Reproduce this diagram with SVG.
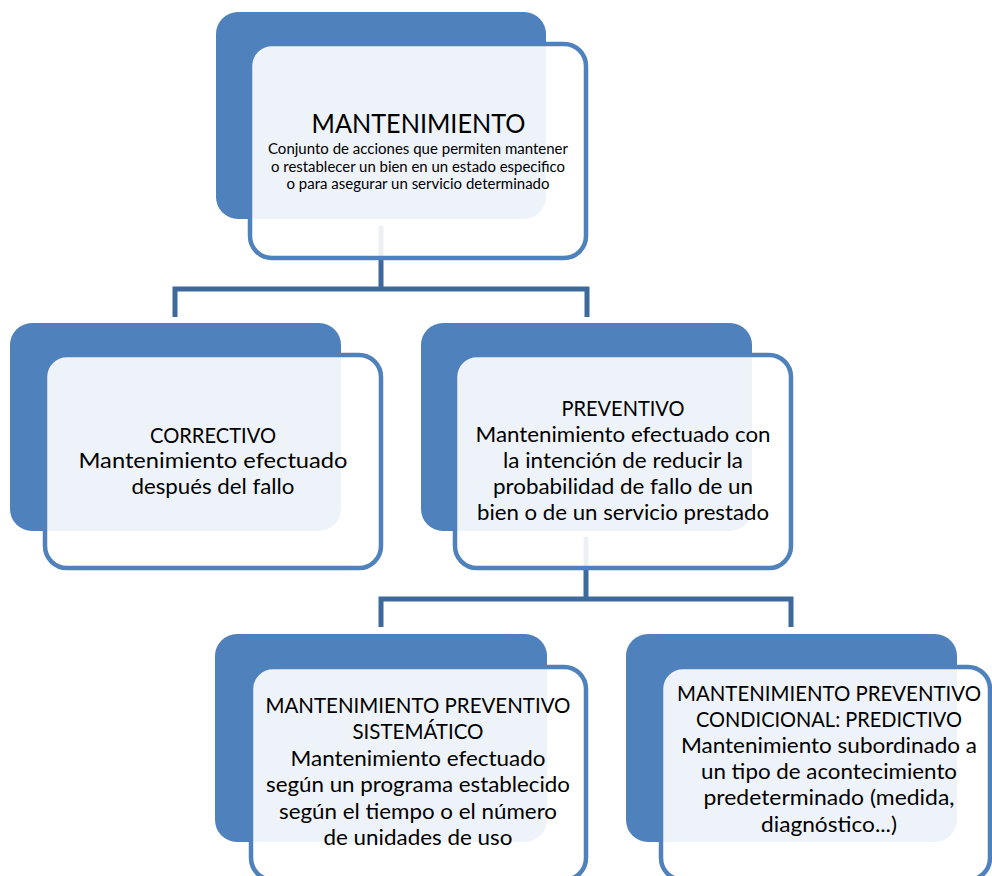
<svg xmlns="http://www.w3.org/2000/svg" width="992" height="876" viewBox="0 0 992 876">
<style>
.back{fill:#4F81BD;}
.front{fill:#FFFFFF;fill-opacity:0.9;stroke:#4F81BD;stroke-width:4.5;}
.conn{fill:none;stroke:#3E6A9B;stroke-width:5;stroke-linejoin:miter;stroke-linecap:butt;}
text{font-family:Lato,"Liberation Sans",sans-serif;fill:#000;text-anchor:middle;}
.t{font-size:21.5px;}
.title{font-size:26.5px;}
.sub{font-size:14.5px;}
</style>
<rect width="992" height="876" fill="#FFFFFF"/>
<g id="connectors">
<path class="conn" d="M175 317 V289 H587 V317 M381 226 V289"/>
<path class="conn" d="M381 627 V599 H791 V627 M586 537 V599"/>
</g>
<g id="mantenimiento">
<rect class="back" x="216" y="12" width="330" height="207" rx="22"/>
<rect class="front" x="250" y="44" width="336" height="214" rx="22"/>
<text class="title" x="418.5" y="133" textLength="214" lengthAdjust="spacingAndGlyphs">MANTENIMIENTO</text>
<text class="sub" x="418" y="154" textLength="300" lengthAdjust="spacingAndGlyphs">Conjunto de acciones que permiten mantener</text>
<text class="sub" x="418" y="171.5" textLength="294" lengthAdjust="spacingAndGlyphs">o restablecer un bien en un estado especifico</text>
<text class="sub" x="418" y="188.5" textLength="263" lengthAdjust="spacingAndGlyphs">o para asegurar un servicio determinado</text>
</g>
<g id="correctivo">
<rect class="back" x="10" y="323" width="331" height="208" rx="22"/>
<rect class="front" x="45" y="355" width="336" height="213" rx="22"/>
<text class="t" x="213" y="442.5" textLength="126" lengthAdjust="spacingAndGlyphs">CORRECTIVO</text>
<text class="t" x="213" y="468" textLength="269" lengthAdjust="spacingAndGlyphs">Mantenimiento efectuado</text>
<text class="t" x="213" y="493.5" textLength="163" lengthAdjust="spacingAndGlyphs">después del fallo</text>
</g>
<g id="preventivo">
<rect class="back" x="421" y="323" width="331" height="208" rx="22"/>
<rect class="front" x="455" y="355" width="336" height="213" rx="22"/>
<text class="t" x="623" y="416" textLength="123" lengthAdjust="spacingAndGlyphs">PREVENTIVO</text>
<text class="t" x="623" y="442" textLength="295" lengthAdjust="spacingAndGlyphs">Mantenimiento efectuado con</text>
<text class="t" x="623" y="468" textLength="240" lengthAdjust="spacingAndGlyphs">la intención de reducir la</text>
<text class="t" x="623" y="494" textLength="260" lengthAdjust="spacingAndGlyphs">probabilidad de fallo de un</text>
<text class="t" x="623" y="520" textLength="292" lengthAdjust="spacingAndGlyphs">bien o de un servicio prestado</text>
</g>
<g id="sistematico">
<rect class="back" x="215" y="634" width="332" height="208" rx="22"/>
<rect class="front" x="251" y="667" width="335" height="213" rx="22"/>
<text class="t" x="418" y="713" textLength="305" lengthAdjust="spacingAndGlyphs">MANTENIMIENTO PREVENTIVO</text>
<text class="t" x="418" y="739" textLength="131" lengthAdjust="spacingAndGlyphs">SISTEMÁTICO</text>
<text class="t" x="418" y="766" textLength="255" lengthAdjust="spacingAndGlyphs">Mantenimiento efectuado</text>
<text class="t" x="418" y="792" textLength="304" lengthAdjust="spacingAndGlyphs">según un programa establecido</text>
<text class="t" x="418" y="819" textLength="278" lengthAdjust="spacingAndGlyphs">según el tiempo o el número</text>
<text class="t" x="418" y="845" textLength="189" lengthAdjust="spacingAndGlyphs">de unidades de uso</text>
</g>
<g id="condicional">
<rect class="back" x="626" y="634" width="331" height="208" rx="22"/>
<rect class="front" x="661" y="667" width="329" height="213" rx="22"/>
<text class="t" x="829" y="701" textLength="304" lengthAdjust="spacingAndGlyphs">MANTENIMIENTO PREVENTIVO</text>
<text class="t" x="829" y="727" textLength="266" lengthAdjust="spacingAndGlyphs">CONDICIONAL: PREDICTIVO</text>
<text class="t" x="829" y="753" textLength="296" lengthAdjust="spacingAndGlyphs">Mantenimiento subordinado a</text>
<text class="t" x="829" y="779" textLength="256" lengthAdjust="spacingAndGlyphs">un tipo de acontecimiento</text>
<text class="t" x="829" y="805" textLength="251" lengthAdjust="spacingAndGlyphs">predeterminado (medida,</text>
<text class="t" x="829" y="832" textLength="136" lengthAdjust="spacingAndGlyphs">diagnóstico...)</text>
</g>
</svg>
